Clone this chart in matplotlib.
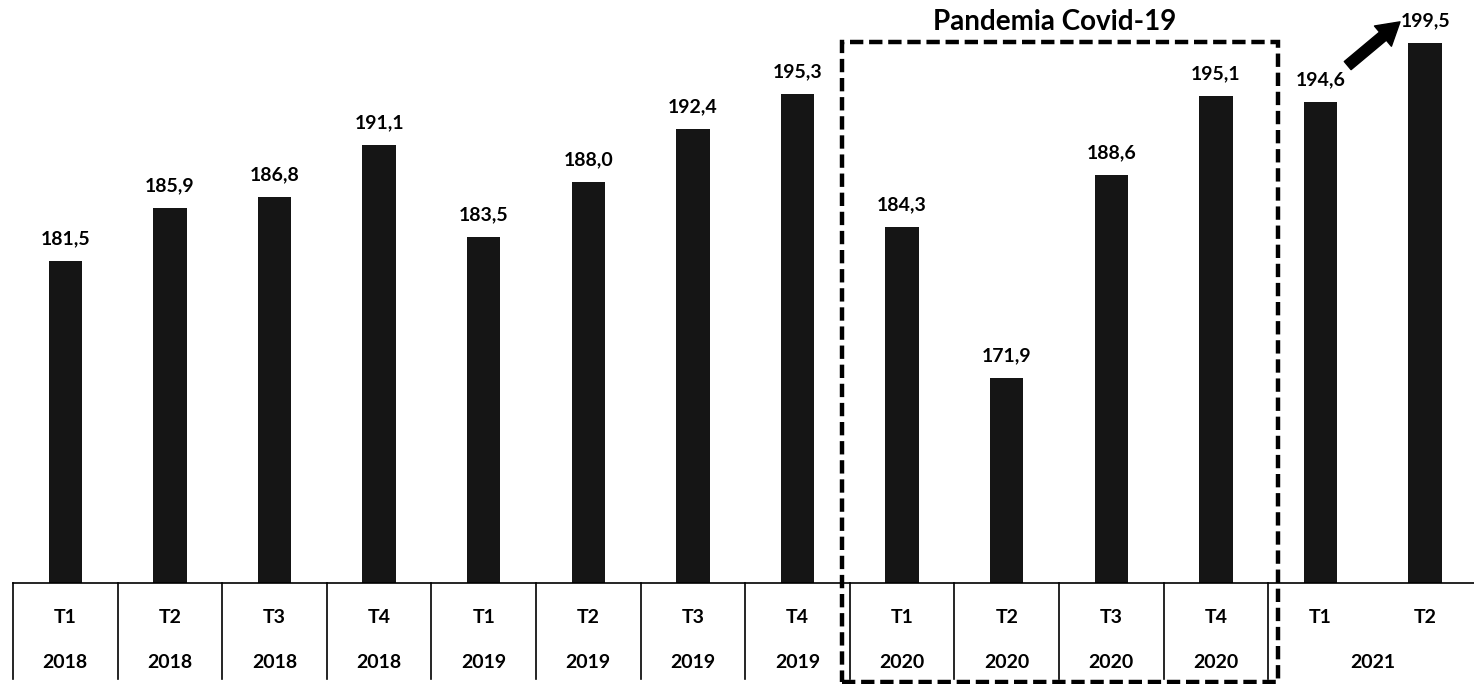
import matplotlib
matplotlib.use("Agg")
import matplotlib.pyplot as plt
from matplotlib.patches import Rectangle
from matplotlib.transforms import blended_transform_factory

# Dados
trimestres = ["T1", "T2", "T3", "T4", "T1", "T2", "T3", "T4",
              "T1", "T2", "T3", "T4", "T1", "T2"]
anos = ["2018", "2018", "2018", "2018", "2019", "2019", "2019", "2019",
        "2020", "2020", "2020", "2020", "2021", "2021"]
valores = [181.5, 185.9, 186.8, 191.1, 183.5, 188.0, 192.4, 195.3,
           184.3, 171.9, 188.6, 195.1, 194.6, 199.5]
titulo_pandemia = "Pandemia Covid-19"
anos_pandemia = ["2020"]
anos_mesclados = ["2021"]

FONT = "Lato"
BAR_COLOR = "#151515"

fig = plt.figure(figsize=(14.74, 6.84), dpi=100)
ax = fig.add_axes([13 / 1474, 101 / 684, 14 * 104.6 / 1474, 583 / 684])

x = list(range(len(valores)))
ax.bar(x, valores, width=0.32, color=BAR_COLOR, zorder=2)
ax.set_xlim(-0.5, len(valores) - 0.5)
ax.set_ylim(155.0, 203.0)
ax.axis("off")

# rótulos de valor
for xi, v in zip(x, valores):
    ax.annotate(f"{v:.1f}".replace(".", ","), (xi, v), xytext=(0, 16),
                textcoords="offset points", ha="center", va="center",
                fontsize=14, fontweight="bold", family=FONT)

# tabela do eixo x
trans = blended_transform_factory(ax.transData, ax.transAxes)
ax.plot([-0.5, len(valores) - 0.5], [0, 0], color="black", lw=1.2,
        transform=trans, clip_on=False)

mesclados = [i for i, a in enumerate(anos) if a in anos_mesclados]
for i in range(len(valores)):
    if i not in mesclados or i == mesclados[0]:
        ax.plot([i - 0.5, i - 0.5], [0, -0.165], color="black", lw=1.2,
                transform=trans, clip_on=False)
    ax.text(i, -0.06, trimestres[i], transform=trans, ha="center",
            va="center", fontsize=14, fontweight="bold", family=FONT)
    if i not in mesclados:
        ax.text(i, -0.137, anos[i], transform=trans, ha="center",
                va="center", fontsize=14, fontweight="bold", family=FONT)
if mesclados:
    ax.text(sum(mesclados) / len(mesclados), -0.137, anos[mesclados[0]],
            transform=trans, ha="center", va="center", fontsize=14,
            fontweight="bold", family=FONT)

# caixa tracejada da pandemia
idx = [i for i, a in enumerate(anos) if a in anos_pandemia]
x0, x1 = idx[0] - 0.575, idx[-1] + 0.594
box = Rectangle((x0, -0.17), x1 - x0, 0.928 + 0.17, transform=trans,
                fill=False, edgecolor="black", lw=3.2, linestyle=(0, (3, 1.3)),
                clip_on=False, zorder=3)
ax.add_patch(box)
ax.text((x0 + x1) / 2 - 0.05, 0.962, titulo_pandemia, transform=trans,
        ha="center", va="center", fontsize=20, fontweight="bold", family=FONT)

# seta de crescimento em 2021
i0, i1 = mesclados[0], mesclados[-1]
ax.annotate("", xy=(i1 - 0.24, valores[i1] + 1.7),
            xytext=(i0 + 0.26, valores[i0] + 3.0),
            arrowprops=dict(arrowstyle="simple,head_length=0.8,head_width=0.95,tail_width=0.38",
                            mutation_scale=20, color="black", shrinkA=0, shrinkB=0))

fig.savefig("out.png", dpi=100)
